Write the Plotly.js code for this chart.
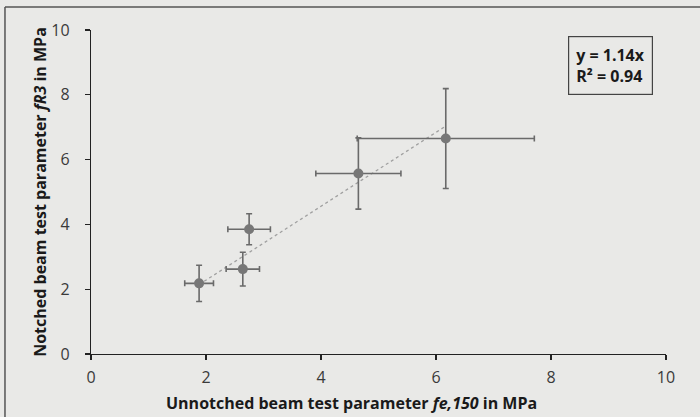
<!DOCTYPE html>
<html>
<head>
<meta charset="utf-8">
<script src="https://cdn.plot.ly/plotly-3.0.1.min.js"></script>
<style>html,body{margin:0;padding:0;background:#e9e9e7;}#chart{width:700px;height:417px;}</style>
</head>
<body>
<div id="chart"></div>
<script>
const xVals = [1.88, 2.64, 2.75, 4.65, 6.17];
const yVals = [2.18, 2.62, 3.85, 5.57, 6.65];
const xErr = [0.25, 0.29, 0.37, 0.74, 1.54];
const yErr = [0.56, 0.52, 0.48, 1.10, 1.54];
const slope = 1.14;
const rSquared = 0.94;
const tickVals = [0, 2, 4, 6, 8, 10];
const xTitle = 'Unnotched beam test parameter <i>fe,150</i> in MPa';
const yTitle = 'Notched beam test parameter <i>fR3</i> in MPa';

const xMin = Math.min(...xVals), xMax = Math.max(...xVals);
const trendX = [xMin, xMax];
const trendY = trendX.map(v => slope * v);

const font = "'Open Sans', sans-serif";

const traces = [
  {
    x: trendX, y: trendY, type: 'scatter', mode: 'lines',
    line: {color: '#a0a0a0', width: 1.3, dash: 'dot'},
    hoverinfo: 'skip', showlegend: false
  },
  {
    x: xVals, y: yVals, type: 'scatter', mode: 'markers',
    marker: {color: '#777777', size: 10},
    error_x: {type: 'data', array: xErr, visible: true, color: '#6a6a6a', thickness: 1.6, width: 3},
    error_y: {type: 'data', array: yErr, visible: true, color: '#6a6a6a', thickness: 1.6, width: 3},
    showlegend: false
  }
];

const layout = {
  width: 700, height: 417,
  margin: {l: 91, r: 34, t: 30, b: 63},
  paper_bgcolor: '#e9e9e7',
  plot_bgcolor: '#e9e9e7',
  font: {family: font, color: '#333'},
  showlegend: false,
  xaxis: {
    range: [0, 10], tickvals: tickVals, ticktext: tickVals.map(String),
    showgrid: false, zeroline: false, showline: true, linecolor: '#222', linewidth: 1.2,
    ticks: 'outside', ticklen: 5, tickcolor: '#222', tickwidth: 1.2,
    ticklabelstandoff: 4,
    tickfont: {size: 16, color: '#3a3a3a', family: font}
  },
  yaxis: {
    range: [0, 10], tickvals: tickVals, ticktext: tickVals.map(String),
    showgrid: false, zeroline: false, showline: true, linecolor: '#222', linewidth: 1.2,
    ticks: 'outside', ticklen: 5, tickcolor: '#222', tickwidth: 1.2,
    ticklabelstandoff: 12,
    tickfont: {size: 16, color: '#3a3a3a', family: font},
    title: {text: '<b>' + yTitle + '</b>', font: {size: 16, color: '#1a1a1a', family: font}, standoff: 0}
  },
  annotations: [
    {
      xref: 'paper', yref: 'paper', x: 0.453, y: -0.151,
      xanchor: 'center', yanchor: 'middle', showarrow: false,
      text: '<b>' + xTitle + '</b>',
      font: {size: 16, color: '#1a1a1a', family: font}
    },
    {
      xref: 'paper', yref: 'paper', x: 0.904, y: 0.890,
      xanchor: 'center', yanchor: 'middle', showarrow: false,
      text: '<b>y = ' + slope.toFixed(2) + 'x<br>R² = ' + rSquared.toFixed(2) + '</b>',
      align: 'left',
      font: {size: 16, color: '#1a1a1a', family: font},
      bordercolor: '#444', borderwidth: 1.2, borderpad: 7, bgcolor: '#e9e9e7'
    }
  ],
  shapes: [
    {type: 'line', xref: 'paper', yref: 'paper', x0: -0.1496, x1: 1.06, y0: 1.071, y1: 1.071, line: {color: '#555', width: 1.5}},
    {type: 'line', xref: 'paper', yref: 'paper', x0: -0.1496, x1: -0.1496, y0: 1.071, y1: -0.2, line: {color: '#555', width: 1.5}}
  ]
};

Plotly.newPlot('chart', traces, layout, {displayModeBar: false, staticPlot: true});
</script>
</body>
</html>
